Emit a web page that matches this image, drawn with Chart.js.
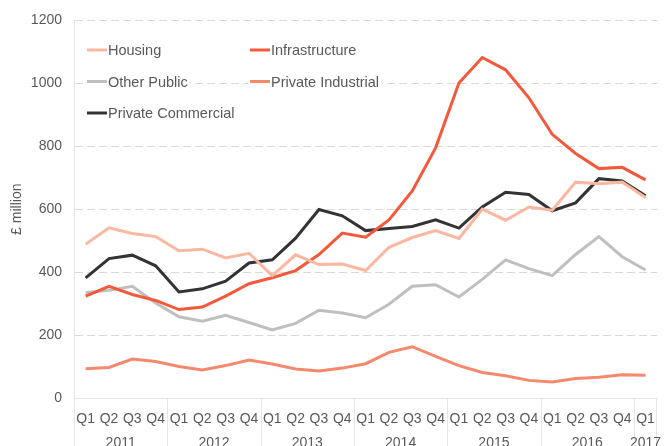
<!DOCTYPE html>
<html>
<head>
 <meta charset="utf-8">
 <title>Construction output by sector</title>
 <script src="https://cdn.jsdelivr.net/npm/chart.js@4/dist/chart.umd.min.js"></script>
 <style>
  body { margin: 0; background: #fff; }
  #wrap { width: 668px; height: 446px; position: relative; }
 </style>
</head>
<body>
<div id="wrap"><canvas id="myChart"></canvas></div>
<script>
 // quarters and the year each one belongs to
 var quarters = ["Q1","Q2","Q3","Q4","Q1","Q2","Q3","Q4","Q1","Q2","Q3","Q4",
                 "Q1","Q2","Q3","Q4","Q1","Q2","Q3","Q4","Q1","Q2","Q3","Q4","Q1"];
 var years = ["2011","2012","2013","2014","2015","2016","2017"];
 var quartersPerYear = [4,4,4,4,4,4,1];

 // £ million
 var housing = [489,541,523,513,468,473,445,460,389,455,424,426,
                405,479,510,532,507,600,565,607,597,686,681,686,637];
 var infrastructure = [324,355,329,310,281,289,324,363,382,405,456,524,
                       511,566,658,795,1001,1082,1043,954,838,777,729,733,693];
 var otherPublic = [335,342,355,302,258,244,263,240,216,237,279,270,
                    255,298,355,360,321,377,439,411,389,456,513,449,407];
 var privateIndustrial = [93,97,124,116,100,89,103,121,108,92,86,95,
                          109,145,163,132,103,81,71,56,51,62,66,74,72];
 var privateCommercial = [382,443,454,420,337,347,371,429,439,508,599,579,
                          532,539,545,566,540,607,654,647,595,620,697,690,643];

 var yTicks = [0,200,400,600,800,1000,1200];

 Chart.defaults.font.family = "'Liberation Sans', Arial, sans-serif";
 Chart.defaults.color = "#595959";

 // legend drawn inside the plot, two columns
 var gridLegend = {
  id: "gridLegend",
  afterDraw: function(chart) {
   var ctx = chart.ctx;
   var cols = [87, 250];
   var rows = [50, 81.5, 113];
   ctx.save();
   ctx.font = "14.5px 'Liberation Sans', Arial, sans-serif";
   ctx.textBaseline = "middle";
   chart.data.datasets.forEach(function(ds, i) {
    var x = cols[i % 2], y = rows[Math.floor(i / 2)];
    ctx.fillStyle = "#fff";
    ctx.fillRect(x - 2, y - 9, ctx.measureText(ds.label).width + 26, 18);
    ctx.strokeStyle = ds.borderColor;
    ctx.lineWidth = 3;
    ctx.beginPath();
    ctx.moveTo(x, y);
    ctx.lineTo(x + 20, y);
    ctx.stroke();
    ctx.fillStyle = "#595959";
    ctx.fillText(ds.label, x + 21, y + 1);
   });
   ctx.restore();
  }
 };

 // year labels and separators under the quarter labels
 var yearAxis = {
  id: "yearAxis",
  afterDraw: function(chart) {
   var ctx = chart.ctx;
   var xs = chart.scales.x;
   var area = chart.chartArea;
   var step = xs.getPixelForValue(1) - xs.getPixelForValue(0);
   ctx.save();
   ctx.strokeStyle = "#e6e6e6";
   ctx.lineWidth = 1;
   ctx.fillStyle = "#595959";
   ctx.font = "14px 'Liberation Sans', Arial, sans-serif";
   ctx.textAlign = "center";
   ctx.textBaseline = "middle";
   var start = 0;
   for (var i = 0; i < years.length; i++) {
    var left = xs.getPixelForValue(start) - step / 2;
    var right = xs.getPixelForValue(start + quartersPerYear[i] - 1) + step / 2;
    ctx.beginPath();
    ctx.moveTo(Math.round(left) + 0.5, area.bottom);
    ctx.lineTo(Math.round(left) + 0.5, chart.height);
    ctx.stroke();
    if (i == years.length - 1) {
     ctx.beginPath();
     ctx.moveTo(Math.round(right) - 0.5, area.bottom);
     ctx.lineTo(Math.round(right) - 0.5, chart.height);
     ctx.stroke();
    }
    ctx.fillText(years[i], (left + right) / 2, 443);
    start += quartersPerYear[i];
   }
   ctx.restore();
  }
 };

 function line(label, data, color) {
  return { label: label, data: data, borderColor: color, backgroundColor: color,
           borderWidth: 3, pointRadius: 0, tension: 0, fill: false };
 }

 var ctx = document.getElementById("myChart");
 var myChart = new Chart(ctx, {
  type: "line",
  data: {
   labels: quarters,
   datasets: [
    line("Housing", housing, "#fbb7a0"),
    line("Infrastructure", infrastructure, "#f4593b"),
    line("Other Public", otherPublic, "#bfbfbf"),
    line("Private Industrial", privateIndustrial, "#f6896c"),
    line("Private Commercial", privateCommercial, "#333333")
   ]
  },
  options: {
   responsive: true,
   maintainAspectRatio: false,
   animation: false,
   layout: { padding: { top: 18, right: 5, left: 0, bottom: 0 } },
   plugins: { legend: { display: false }, tooltip: { enabled: false } },
   scales: {
    x: {
     offset: true,
     grid: { display: false, drawTicks: false },
     border: { color: "#e6e6e6" },
     ticks: { font: { size: 14 }, color: "#595959", maxRotation: 0, autoSkip: false, padding: 13 },
     afterFit: function(s) { s.height = 48; }
    },
    y: {
     min: 0, max: 1200,
     afterBuildTicks: function(s) { s.ticks = yTicks.map(function(v) { return { value: v }; }); },
     grid: { color: function(c) { return c.tick.value == 0 ? "rgba(0,0,0,0)" : "#d9d9d9"; },
             drawTicks: false },
     border: { color: "#e6e6e6", dash: [8, 4] },
     ticks: { font: { size: 14 }, color: "#595959", padding: 12,
              callback: function(v) { return String(v); } },
     title: { display: true, text: "£ million", font: { size: 14 }, color: "#595959",
              padding: { top: 9, bottom: 0 } },
     afterFit: function(s) { s.width = 74; }
    }
   }
  },
  plugins: [gridLegend, yearAxis]
 });
</script>
</body>
</html>
